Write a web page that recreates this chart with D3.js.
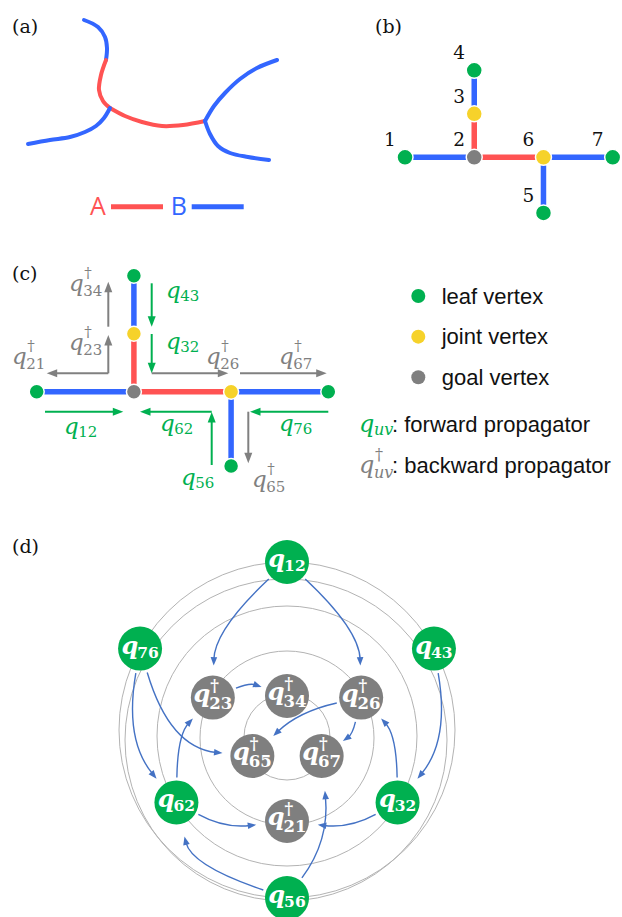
<!DOCTYPE html>
<html>
<head>
<meta charset="utf-8">
<script src="https://cdn.jsdelivr.net/npm/d3@7"></script>
<style>
  html, body { margin: 0; padding: 0; background: #fff; }
  svg { display: block; }
</style>
</head>
<body>
<script>
// ---------- data ----------
const panelLabels = ["(a)", "(b)", "(c)", "(d)"];
const blockNames = ["A", "B"];

// (a) coarse-grained branched chain, one polyline per strand segment
const strandTypes = ["B", "A", "A", "B", "B", "B"];
const strandPaths = [
  [[84, 20], [98, 27], [105, 37], [107, 48], [106, 60]],
  [[106, 60], [101, 75], [99, 90], [103, 101], [110, 108]],
  [[110, 108], [125, 116], [142, 122], [162, 126], [183, 125], [205, 121]],
  [[110, 108], [104, 118], [96, 126], [85, 132], [70, 137], [50, 140], [28, 144]],
  [[205, 121], [214, 106], [225, 93], [240, 79], [257, 68], [277, 60]],
  [[205, 121], [210, 134], [218, 146], [230, 153], [248, 157], [269, 160]]
];

// (b)/(c) tree graph: vertices on a grid (column, row)
const vertexIds = [1, 2, 3, 4, 5, 6, 7];
const vertexTypes = ["leaf", "goal", "joint", "leaf", "leaf", "joint", "leaf"];
const vertexCol = [0, 1, 1, 1, 2, 2, 3];
const vertexRow = [0, 0, -1, -2, 1.28, 0, 0];
const bondPairs = [[1, 2], [2, 3], [3, 4], [2, 6], [6, 7], [6, 5]];
const bondTypes = ["B", "A", "B", "A", "B", "B"];

// (c) propagator arrows along the bonds
const fwdSubs = ["43", "32", "12", "62", "56", "76"];
const fwdPaths = [
  [[151.7, 283.3], [151.7, 326.7]],
  [[151.7, 334], [151.7, 373.3]],
  [[45, 411.7], [123.3, 411.7]],
  [[211.7, 411.7], [140, 411.7]],
  [[211.7, 465], [211.7, 412]],
  [[328.3, 411.7], [250, 411.7]]
];
const fwdLabelAt = [[166, 298], [166, 349], [64, 434], [160, 431], [181, 485], [279, 431]];
const bwdSubs = ["34", "23", "21", "26", "67", "65"];
const bwdPaths = [
  [[108.3, 326.7], [108.3, 281.7]],
  [[108.3, 373.3], [108.3, 335]],
  [[108.3, 373.3], [46.7, 373.3]],
  [[151.7, 373.3], [228.3, 373.3]],
  [[240, 373.3], [326.7, 373.3]],
  [[248.3, 411.7], [248.3, 463.3]]
];
const bwdLabelAt = [[69, 291], [69, 350], [12, 364], [206, 364], [279, 364], [252, 487]];

const legendVertexTypes = ["leaf", "joint", "goal"];
const legendVertexText = ["leaf vertex", "joint vertex", "goal vertex"];
const legendPropText = ["forward propagator", "backward propagator"];

// (d) propagator dependency rings
const propSubs  = ["12", "43", "32", "56", "62", "76", "23", "26", "21", "34", "65", "67"];
const propKinds = ["f", "f", "f", "f", "f", "f", "b", "b", "b", "b", "b", "b"];
const propRing  = [0, 0, 1, 0, 1, 0, 2, 2, 2, 3, 3, 3];
const propAngle = [0, 61, 121, 180, -121, -61, -62, 62, 180, 0, -120, 120];
const flowFrom = ["12", "12", "23", "26", "26", "76", "76", "62", "62", "56", "56", "43", "32", "32"];
const flowTo   = ["23", "26", "34", "65", "67", "62", "65", "23", "21", "62", "67", "32", "26", "21"];
const flowBend = [0.20, -0.20, -0.19, 0.14, -0.19, 0.23, 0.33, -0.19, 0.16, -0.26, 0.19, -0.23, 0.19, -0.16];
const flowSkew = [0.11, 0.11, 0, 0, 0, 0.04, 0.08, 0.08, -0.04, 0.14, -0.05, 0.04, 0.08, -0.04];
const flowGap  = [10, 10, 5, 7, 4, 9, 8, 7, 9, 13, 13, 9, 7, 9];

// ---------- layout & style ----------
const W = 622, H = 917;
const SERIF = "'DejaVu Serif', serif";
const SANS = "'Liberation Sans', Arial, sans-serif";
const COLOR = {
  A: "#ff5353", B: "#3366ff",
  leaf: "#00b050", joint: "#f6d22a", goal: "#7f7f7f",
  fwd: "#00b050", bwd: "#808080", flow: "#4472c4", ring: "#b3b3b3"
};

const svg = d3.select("body").append("svg")
  .attr("width", W).attr("height", H).attr("viewBox", `0 0 ${W} ${H}`);

function unit(a, b) {
  const dx = b[0] - a[0], dy = b[1] - a[1], l = Math.hypot(dx, dy);
  return [dx / l, dy / l];
}
function arrowHead(g, tip, u, len, halfW, color) {
  const bx = tip[0] - u[0] * len, by = tip[1] - u[1] * len;
  const pts = [tip, [bx - u[1] * halfW, by + u[0] * halfW], [bx + u[1] * halfW, by - u[0] * halfW]];
  g.append("path").attr("d", d3.line()(pts) + "Z").attr("fill", color);
}
function straightArrow(g, p0, p1, color, width, len, halfW) {
  const u = unit(p0, p1);
  const end = [p1[0] - u[0] * len * 0.8, p1[1] - u[1] * len * 0.8];
  g.append("path").attr("d", d3.line()([p0, end]))
    .attr("stroke", color).attr("stroke-width", width).attr("fill", "none");
  arrowHead(g, p1, u, len, halfW, color);
}

// q with subscript (and dagger for backward propagators); (x, y) = left / baseline of q
function mathLabel(g, x, y, sub, dagger, o) {
  const lg = g.append("g").attr("fill", o.color).attr("font-family", SERIF)
    .attr("font-weight", o.weight || "normal");
  const q = lg.append("text").attr("x", x).attr("y", y)
    .attr("font-style", "italic").attr("font-size", o.q).text("q");
  const sx = x + q.node().getComputedTextLength() + (o.kern || 0);
  if (dagger) {
    lg.append("text").attr("x", sx + (o.dagX || 0)).attr("y", y - o.supRaise)
      .attr("font-size", o.s).text("\u2020");
  }
  lg.append("text").attr("x", sx).attr("y", y + (dagger ? o.subDropB : o.subDrop))
    .attr("font-size", o.s).attr("font-style", o.subItalic ? "italic" : "normal").text(sub);
  return lg;
}

// ---------- panel labels ----------
const panelPos = [[12, 33], [375, 33], [12, 280], [12, 553]];
svg.selectAll("text.panel").data(panelLabels).join("text")
  .attr("class", "panel")
  .attr("x", (d, i) => panelPos[i][0]).attr("y", (d, i) => panelPos[i][1])
  .attr("font-family", SERIF).attr("font-size", 19).attr("fill", "#111")
  .text(d => d);

// ---------- (a) ----------
const gA = svg.append("g");
const strandLine = d3.line().curve(d3.curveCatmullRom.alpha(0.5));
gA.selectAll("path.strand").data(strandPaths).join("path")
  .attr("d", d => strandLine(d))
  .attr("fill", "none").attr("stroke-width", 4).attr("stroke-linecap", "round")
  .attr("stroke", (d, i) => COLOR[strandTypes[i]]);

const legendX = d3.scalePoint().domain(blockNames).range([90, 170.7]);
blockNames.forEach(b => {
  gA.append("text").attr("x", legendX(b)).attr("y", 215)
    .attr("font-family", "'Open Sans', sans-serif").attr("font-size", 25)
    .attr("fill", COLOR[b]).text(b);
  gA.append("line").attr("x1", legendX(b) + 21).attr("x2", legendX(b) + 73)
    .attr("y1", 206.7).attr("y2", 206.7)
    .attr("stroke", COLOR[b]).attr("stroke-width", 5);
});

// ---------- (b) & (c) tree graphs ----------
function drawTree(g, xs, ys, r, withNumbers) {
  const pos = id => {
    const i = vertexIds.indexOf(id);
    return [xs(vertexCol[i]), ys(vertexRow[i])];
  };
  g.selectAll("line.bond").data(bondPairs).join("line")
    .attr("x1", d => pos(d[0])[0]).attr("y1", d => pos(d[0])[1])
    .attr("x2", d => pos(d[1])[0]).attr("y2", d => pos(d[1])[1])
    .attr("stroke", (d, i) => COLOR[bondTypes[i]]).attr("stroke-width", 5.5);
  g.selectAll("circle.vertex").data(vertexIds).join("circle")
    .attr("cx", d => pos(d)[0]).attr("cy", d => pos(d)[1]).attr("r", r)
    .attr("fill", (d, i) => COLOR[vertexTypes[i]])
    .attr("stroke", "#fff").attr("stroke-width", 1.5);
  if (withNumbers) {
    g.selectAll("text.vid").data(vertexIds).join("text")
      .attr("x", d => pos(d)[0] - 15).attr("y", d => pos(d)[1] - 11)
      .attr("text-anchor", "middle").attr("font-family", SERIF)
      .attr("font-size", 18.5).attr("fill", "#111").text(d => d);
  }
}
const xB = d3.scaleLinear().domain([0, 3]).range([405, 612.7]);
const yB = d3.scaleLinear().domain([0, 1]).range([157.3, 200.8]);
drawTree(svg.append("g"), xB, yB, 8, true);

const xC = d3.scaleLinear().domain([0, 3]).range([36.7, 328.3]);
const yC = d3.scaleLinear().domain([0, 1]).range([391.7, 449.7]);
const gC = svg.append("g");
drawTree(gC, xC, yC, 7.5, false);

const cStyle = { q: 23, s: 15, subDrop: 3, subDropB: 5, supRaise: 13, kern: -0.5, dagX: 1 };
fwdPaths.forEach((p, i) => {
  straightArrow(gC, p[0], p[1], COLOR.fwd, 2, 10.5, 4);
  mathLabel(gC, fwdLabelAt[i][0], fwdLabelAt[i][1], fwdSubs[i], false, { ...cStyle, color: COLOR.fwd });
});
bwdPaths.forEach((p, i) => {
  straightArrow(gC, p[0], p[1], COLOR.bwd, 2, 10.5, 4);
  mathLabel(gC, bwdLabelAt[i][0], bwdLabelAt[i][1], bwdSubs[i], true, { ...cStyle, color: COLOR.bwd });
});

// legend
const gL = svg.append("g");
const legY = d3.scalePoint().domain(legendVertexTypes).range([296, 377.3]);
legendVertexTypes.forEach((t, i) => {
  gL.append("circle").attr("cx", 418.3).attr("cy", legY(t)).attr("r", 7).attr("fill", COLOR[t]);
  gL.append("text").attr("x", 441.7).attr("y", legY(t) + 7.5)
    .attr("font-family", SANS).attr("font-size", 22).attr("fill", "#111")
    .text(legendVertexText[i]);
});
const legPropY = [432, 473];
legendPropText.forEach((t, i) => {
  const back = i === 1;
  mathLabel(gL, 359, legPropY[i], "uv", back,
    { ...cStyle, q: 24, s: 16, subItalic: true, color: back ? COLOR.bwd : COLOR.fwd });
  gL.append("text").attr("x", 392).attr("y", legPropY[i])
    .attr("font-family", SANS).attr("font-size", 22).attr("fill", "#111")
    .text(": " + t);
});

// ---------- (d) dependency rings ----------
const gD = svg.append("g");
const ringCircles = [
  { cx: 287, cy: 730, r: 168 }, { cx: 286, cy: 740, r: 161 },
  { cx: 287, cy: 736, r: 130 }, { cx: 287, cy: 738, r: 87 }, { cx: 287, cy: 737, r: 43 }
];
gD.selectAll("circle.ring").data(ringCircles).join("circle")
  .attr("cx", d => d.cx).attr("cy", d => d.cy).attr("r", d => d.r)
  .attr("fill", "none").attr("stroke", COLOR.ring).attr("stroke-width", 1);

const ringLayout = [{ r: 168, cy: 730 }, { r: 129, cy: 736 }, { r: 84, cy: 737 }, { r: 40, cy: 736 }];
const centerX = 287;
const angle = d3.scaleLinear().domain([0, 360]).range([0, 2 * Math.PI]);
const nodePos = {};
propSubs.forEach((s, i) => {
  const L = ringLayout[propRing[i]], a = angle(propAngle[i]);
  nodePos[s] = [centerX + L.r * Math.sin(a), L.cy - L.r * Math.cos(a)];
});
const NODE_R = 22;

// nodes
propSubs.forEach((s, i) => {
  const [cx, cy] = nodePos[s];
  const back = propKinds[i] === "b";
  gD.append("circle").attr("cx", cx).attr("cy", cy).attr("r", NODE_R)
    .attr("fill", back ? COLOR.goal : COLOR.leaf);
  const lg = mathLabel(gD, 0, 0, s, back, {
    q: 24, s: back ? 16.5 : 15.5, weight: "bold", color: "#fff",
    subDrop: 4, subDropB: 7, supRaise: 11, kern: -1, dagX: 1
  });
  const bb = lg.node().getBBox();
  lg.attr("transform", `translate(${cx - (bb.x + bb.width / 2)},${cy + (back ? 4 : 5)})`);
});

// flow arrows (quadratic curves between node rims)
flowFrom.forEach((f, i) => {
  const S = nodePos[f], T = nodePos[flowTo[i]];
  const dx = T[0] - S[0], dy = T[1] - S[1], len = Math.hypot(dx, dy);
  const M = [(S[0] + T[0]) / 2, (S[1] + T[1]) / 2];
  const perp = [-dy / len, dx / len], along = [dx / len, dy / len];
  const C = [M[0] + len * (flowBend[i] * perp[0] + flowSkew[i] * along[0]),
             M[1] + len * (flowBend[i] * perp[1] + flowSkew[i] * along[1])];
  const us = unit(S, C), ut = unit(T, C);
  const start = [S[0] + us[0] * (NODE_R + 3), S[1] + us[1] * (NODE_R + 3)];
  const tip = [T[0] + ut[0] * (NODE_R + flowGap[i]), T[1] + ut[1] * (NODE_R + flowGap[i])];
  const ud = unit(C, tip);
  const end = [tip[0] - ud[0] * 6, tip[1] - ud[1] * 6];
  const p = d3.path();
  p.moveTo(start[0], start[1]);
  p.quadraticCurveTo(C[0], C[1], end[0], end[1]);
  gD.append("path").attr("d", p.toString()).attr("fill", "none")
    .attr("stroke", COLOR.flow).attr("stroke-width", 1.4);
  arrowHead(gD, tip, ud, 8.5, 3.3, COLOR.flow);
});
</script>
</body>
</html>
